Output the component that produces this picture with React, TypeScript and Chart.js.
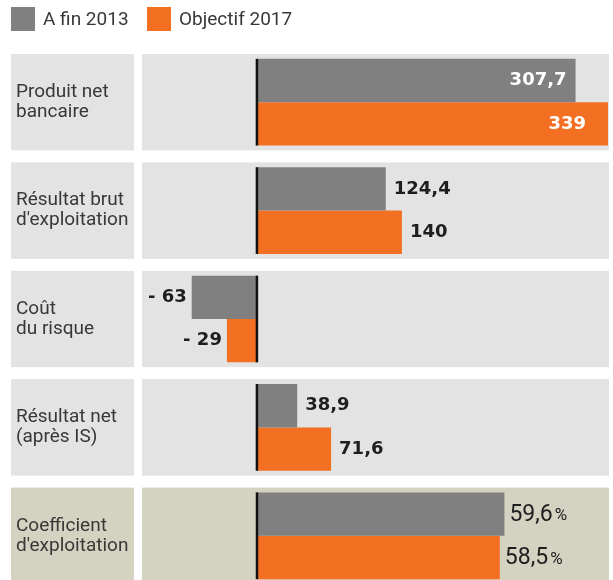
import React, { useEffect, useRef } from "react";
import { Chart, registerables } from "chart.js";

Chart.register(...registerables);

// ---- data ----
const categories: string[][] = [
  ["Produit net", "bancaire"],
  ["Résultat brut", "d'exploitation"],
  ["Coût", "du risque"],
  ["Résultat net", "(après IS)"],
  ["Coefficient", "d'exploitation"],
];
const seriesNames = ["A fin 2013", "Objectif 2017"];
const fin2013 = [307.7, 124.4, -63, 38.9]; // millions d'euros
const objectif2017 = [339, 140, -29, 71.6];
const coefFin2013 = 59.6; // %
const coefObjectif2017 = 58.5; // %
const valueAxisRange = [-111, 340];
const percentAxisRange = [-27.7, 84.8];

// ---- styles ----
const GRAY = "#808080";
const ORANGE = "#f36f21";
const PANEL = "#e3e3e3";
const KHAKI = "#d4d2c1";
const TEXT = "#383838";
const VALUE_TEXT = "#1e1e1e";
const seriesColors = [GRAY, ORANGE];
const insidePad = [9, 22];

const fmt = (v: number) => String(Math.abs(v)).replace(".", ",");

const backgroundPlugin = {
  id: "bands",
  beforeDraw(chart: any) {
    const { ctx, chartArea } = chart;
    const y = chart.scales.y;
    const n = categories.length;
    const pitch = (y.bottom - y.top) / n;
    const band = pitch - 12;
    ctx.save();
    for (let i = 0; i < n; i++) {
      const cy = y.getPixelForValue(i);
      ctx.fillStyle = i === n - 1 ? KHAKI : PANEL;
      ctx.fillRect(11, cy - band / 2, 123, band);
      ctx.fillRect(chartArea.left, cy - band / 2, chartArea.right - chartArea.left, band);
    }
    // legend
    ctx.textBaseline = "middle";
    ctx.textAlign = "left";
    ctx.font = "19px Roboto";
    const legendX = [11, 147];
    for (let s = 0; s < 2; s++) {
      ctx.fillStyle = seriesColors[s];
      ctx.fillRect(legendX[s], 7, 24, 24);
      ctx.fillStyle = TEXT;
      ctx.fillText(chart.data.datasets[s].label, legendX[s] + 32, 20);
    }
    ctx.restore();
  },
};

const overlayPlugin = {
  id: "overlay",
  afterDatasetsDraw(chart: any) {
    const { ctx, chartArea } = chart;
    const y = chart.scales.y;
    const n = categories.length;
    const pitch = (y.bottom - y.top) / n;
    ctx.save();
    // zero lines
    ctx.strokeStyle = "#111";
    ctx.lineWidth = 2.5;
    for (let i = 0; i < n; i++) {
      const cy = y.getPixelForValue(i);
      const sc = i === n - 1 ? chart.scales.x2 : chart.scales.x;
      const x0 = sc.getPixelForValue(0);
      ctx.beginPath();
      ctx.moveTo(x0, cy - pitch * 0.4);
      ctx.lineTo(x0, cy + pitch * 0.4);
      ctx.stroke();
    }
    // value labels
    ctx.textBaseline = "middle";
    chart.data.datasets.forEach((ds: any, d: number) => {
      const meta = chart.getDatasetMeta(d);
      const s = d % 2;
      const isPct = ds.xAxisID === "x2";
      meta.data.forEach((el: any, i: number) => {
        const v = ds.data[i];
        if (v === null || v === undefined) return;
        if (isPct) {
          const t = fmt(v);
          ctx.fillStyle = VALUE_TEXT;
          ctx.textAlign = "left";
          ctx.font = "23px Roboto";
          const x = el.x + 5;
          ctx.fillText(t, x, el.y + 1);
          const w = ctx.measureText(t).width;
          ctx.font = "17px Roboto";
          ctx.fillText("%", x + w + 2, el.y + 2);
          return;
        }
        ctx.font = "bold 18px 'DejaVu Sans'";
        if (v < 0) {
          ctx.fillStyle = VALUE_TEXT;
          ctx.textAlign = "right";
          ctx.fillText("- " + fmt(v), el.x - 5, el.y);
          return;
        }
        const t = fmt(v);
        const w = ctx.measureText(t).width;
        if (el.x + 8 + w > chartArea.right) {
          ctx.fillStyle = "#ffffff";
          ctx.textAlign = "right";
          ctx.fillText(t, el.x - insidePad[s], el.y);
        } else {
          ctx.fillStyle = VALUE_TEXT;
          ctx.textAlign = "left";
          ctx.fillText(t, el.x + 8, el.y);
        }
      });
    });
    ctx.restore();
  },
};

export default function App() {
  const ref = useRef<HTMLCanvasElement | null>(null);

  useEffect(() => {
    if (!ref.current) return;
    const empty = categories.map(() => null);
    const barBase = {
      skipNull: true,
      categoryPercentage: 0.8,
      barPercentage: 1,
      borderWidth: 0,
    };
    const chart = new Chart(ref.current, {
      type: "bar",
      data: {
        labels: categories,
        datasets: [
          {
            ...barBase,
            label: seriesNames[0],
            data: [...fin2013, null],
            backgroundColor: GRAY,
            xAxisID: "x",
          },
          {
            ...barBase,
            label: seriesNames[1],
            data: [...objectif2017, null],
            backgroundColor: ORANGE,
            xAxisID: "x",
          },
          {
            ...barBase,
            label: seriesNames[0] + " (%)",
            data: [...empty.slice(0, -1), coefFin2013],
            backgroundColor: GRAY,
            xAxisID: "x2",
          },
          {
            ...barBase,
            label: seriesNames[1] + " (%)",
            data: [...empty.slice(0, -1), coefObjectif2017],
            backgroundColor: ORANGE,
            xAxisID: "x2",
          },
        ] as any,
      },
      options: {
        indexAxis: "y",
        animation: false,
        responsive: false,
        layout: { padding: { top: 48, bottom: 20, left: 16, right: 4 } },
        plugins: {
          legend: { display: false },
          tooltip: { enabled: false },
        },
        scales: {
          y: {
            type: "category",
            grid: { display: false },
            border: { display: false },
            ticks: {
              crossAlign: "far",
              color: TEXT,
              padding: 0,
              font: { family: "Roboto", size: 19, lineHeight: 1.05 },
            },
            afterFit: (s: any) => {
              s.width = 126;
            },
          },
          x: {
            type: "linear",
            display: false,
            min: valueAxisRange[0],
            max: valueAxisRange[1],
          },
          x2: {
            type: "linear",
            display: false,
            min: percentAxisRange[0],
            max: percentAxisRange[1],
          },
        },
      } as any,
      plugins: [backgroundPlugin, overlayPlugin],
    });
    return () => chart.destroy();
  }, []);

  return (
    <div
      style={{
        position: "absolute",
        left: 0,
        top: 0,
        width: 613,
        height: 580,
        overflow: "hidden",
        background: "#fff",
      }}
    >
      <canvas ref={ref} width={613} height={610} style={{ width: 613, height: 610 }} />
    </div>
  );
}
